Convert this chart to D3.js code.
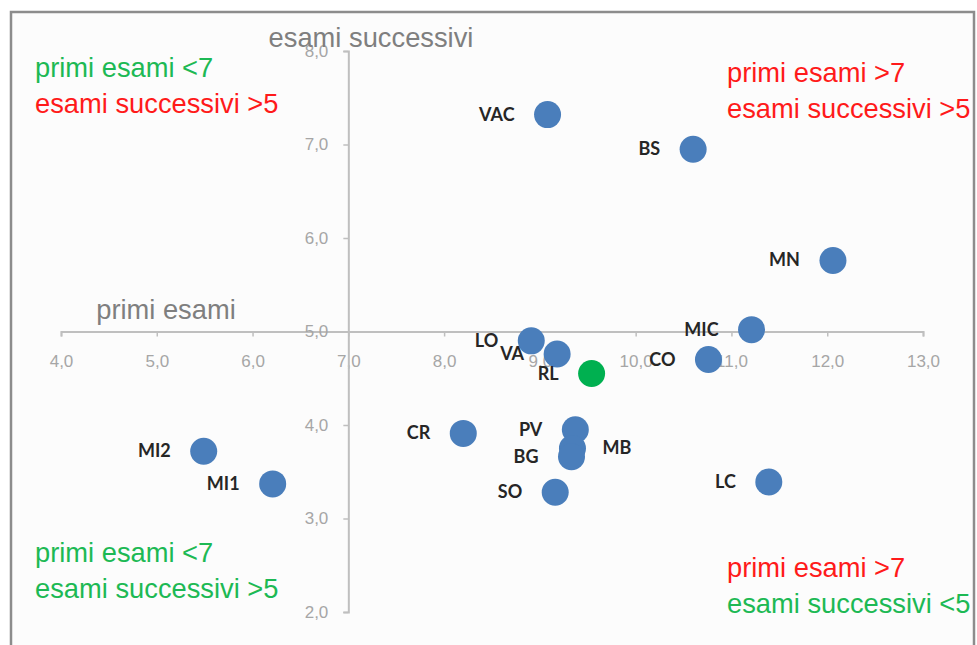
<!DOCTYPE html>
<html>
<head>
<meta charset="utf-8">
<title>primi esami / esami successivi</title>
<script src="https://cdn.jsdelivr.net/npm/d3@7"></script>
<style>
  body { margin: 0; background: #ffffff; }
  svg { display: block; }
</style>
</head>
<body>
<script>
// province codes, first exams (x) and later exams (y)
var codes   = ["VAC", "BS", "MN", "MIC", "CO", "LO", "VA", "RL", "PV", "MB", "BG", "SO", "LC", "CR", "MI2", "MI1"];
var primi   = [9.08, 10.60, 12.06, 11.21, 10.76, 8.91, 9.18, 9.54, 9.37, 9.34, 9.33, 9.16, 11.39, 8.20, 5.49, 6.21];
var succ    = [7.32, 6.95, 5.76, 5.02, 4.70, 4.90, 4.76, 4.55, 3.95, 3.75, 3.66, 3.28, 3.39, 3.91, 3.72, 3.37];
var xTicks  = [4, 5, 6, 7, 8, 9, 10, 11, 12, 13];
var yTicks  = [2, 3, 4, 5, 6, 7, 8];
var highlight = "RL";
var rightLabels = ["MB"];

var W = 977, H = 645;
var svg = d3.select("body").append("svg")
    .attr("width", W)
    .attr("height", H);

// chart frame
svg.append("rect")
    .attr("x", 11).attr("y", 12)
    .attr("width", 963).attr("height", 650)
    .attr("fill", "#fcfcfc")
    .attr("stroke", "#8c8c8c")
    .attr("stroke-width", 2.5);

var x = d3.scaleLinear().domain([4, 13]).range([61, 923]);
var y = d3.scaleLinear().domain([2, 8]).range([612, 51]);

var fmt = function(d){ return d3.format(".1f")(d).replace(".", ","); };

var axisFont = "'Liberation Sans', Arial, sans-serif";

// x axis crosses at y = 5
var gx = svg.append("g")
    .attr("transform", "translate(0," + y(5) + ")")
    .call(d3.axisBottom(x).tickValues(xTicks).tickFormat(fmt).tickSize(5).tickPadding(18));

// y axis crosses at x = 7
var gy = svg.append("g")
    .attr("transform", "translate(" + x(7) + ",0)")
    .call(d3.axisLeft(y).tickValues(yTicks).tickFormat(fmt).tickSize(5).tickPadding(15));

[gx, gy].forEach(function(g){
    g.select(".domain").attr("stroke", "#bfbfbf").attr("stroke-width", 2);
    g.selectAll(".tick line").attr("stroke", "#bfbfbf").attr("stroke-width", 1.5);
    g.selectAll(".tick text")
        .attr("fill", "#a6a6a6")
        .style("font-family", axisFont)
        .style("font-size", "17px");
});

// axis titles
svg.append("text")
    .attr("x", 371).attr("y", 47)
    .attr("text-anchor", "middle")
    .attr("fill", "#7f7f7f")
    .style("font-family", axisFont)
    .style("font-size", "27.3px")
    .text("esami successivi");

svg.append("text")
    .attr("x", 166).attr("y", 319)
    .attr("text-anchor", "middle")
    .attr("fill", "#7f7f7f")
    .style("font-family", axisFont)
    .style("font-size", "27.3px")
    .text("primi esami");

// points
var pts = codes.map(function(c, i){ return {code: c, px: primi[i], py: succ[i]}; });

svg.append("g").selectAll("circle")
    .data(pts)
    .enter().append("circle")
    .attr("cx", function(d){ return x(d.px); })
    .attr("cy", function(d){ return y(d.py); })
    .attr("r", 13.5)
    .attr("fill", function(d){ return d.code === highlight ? "#00b050" : "#4a7ebb"; });

svg.append("g").selectAll("text")
    .data(pts)
    .enter().append("text")
    .attr("x", function(d){
        return rightLabels.indexOf(d.code) >= 0 ? x(d.px) + 30 : x(d.px) - 33;
    })
    .attr("y", function(d){ return y(d.py) + 6; })
    .attr("text-anchor", function(d){ return rightLabels.indexOf(d.code) >= 0 ? "start" : "end"; })
    .attr("fill", "#262626")
    .style("font-family", "Lato, 'Open Sans', sans-serif")
    .style("font-weight", "bold")
    .style("font-size", "18px")
    .text(function(d){ return d.code; });

// quadrant notes
var green = "#1db954", red = "#ff1a1a";
var notes = [
    {x: 35,  y: 77,  t: "primi esami <7",       c: green},
    {x: 35,  y: 113, t: "esami successivi >5",  c: red},
    {x: 727, y: 82,  t: "primi esami >7",       c: red},
    {x: 727, y: 118, t: "esami successivi >5",  c: red},
    {x: 35,  y: 562, t: "primi esami <7",       c: green},
    {x: 35,  y: 598, t: "esami successivi >5",  c: green},
    {x: 727, y: 577, t: "primi esami >7",       c: red},
    {x: 727, y: 613, t: "esami successivi <5",  c: green}
];

svg.append("g").selectAll("text")
    .data(notes)
    .enter().append("text")
    .attr("x", function(d){ return d.x; })
    .attr("y", function(d){ return d.y; })
    .attr("fill", function(d){ return d.c; })
    .style("font-family", axisFont)
    .style("font-size", "27.3px")
    .text(function(d){ return d.t; });
</script>
</body>
</html>
